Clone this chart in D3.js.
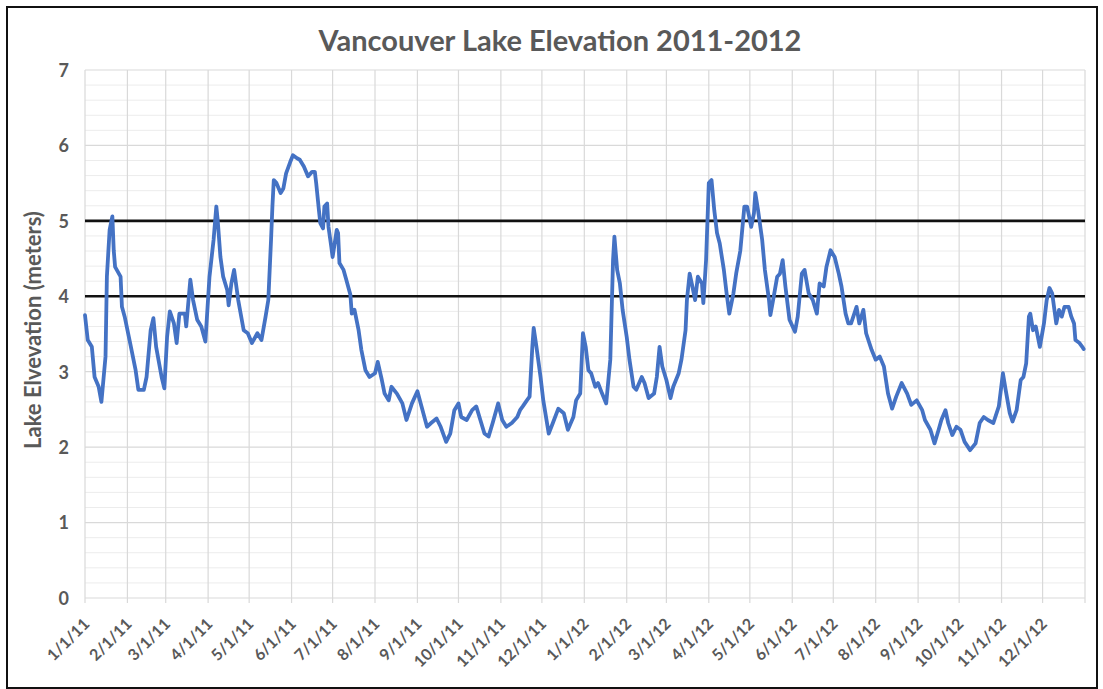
<!DOCTYPE html>
<html>
<head>
<meta charset="utf-8">
<script src="https://cdn.jsdelivr.net/npm/d3@7"></script>
<style>
  html, body { margin: 0; padding: 0; background: #fff; }
  svg { display: block; }
  text { font-family: Lato, "Open Sans", sans-serif; }
</style>
</head>
<body>
<svg id="chart" width="1103" height="689"></svg>
<script>
// ---------- data ----------
const chartTitle = "Vancouver Lake Elevation 2011-2012";
const yAxisTitle = "Lake Elvevation (meters)";
const startDate = "2011-01-01";
const endDate = "2013-01-01";
// days since 1/1/11
const dayOffsets = [0,2,5,7,10,12,15,16,18,20,21,22,26,27,29,33,37,39,43,45,48,50,52,56,58,60,62,65,67,69,73,74,77,79,82,85,88,91,94,96,97,99,101,104,105,107,109,112,116,119,122,126,129,132,134,136,137,138,140,143,145,147,150,152,155,157,160,163,166,168,169,171,172,174,175,177,178,180,181,184,185,186,189,191,194,195,197,200,202,205,208,212,214,217,219,222,224,228,232,235,239,243,246,250,253,257,260,264,267,270,273,275,279,283,286,289,292,295,298,302,305,308,312,316,318,320,323,325,327,328,330,333,335,339,342,346,350,353,357,359,362,364,366,368,370,373,375,378,381,384,385,386,387,389,391,393,396,398,401,403,407,409,412,416,418,420,422,425,428,430,434,436,439,440,442,444,446,448,451,452,454,456,458,460,462,464,467,469,471,474,476,479,482,484,487,489,490,492,495,497,500,501,503,506,508,510,512,515,519,521,524,526,529,532,535,537,540,542,545,548,551,553,556,558,560,564,566,569,571,575,578,581,584,587,590,593,597,601,604,608,612,614,618,621,624,626,629,631,634,637,640,643,647,651,654,657,660,664,668,671,673,676,678,681,684,686,688,690,691,693,695,698,701,703,705,707,710,712,714,716,719,721,723,724,727,729,730];
// lake elevation in meters
const elevations = [3.75,3.42,3.33,2.93,2.80,2.60,3.20,4.26,4.88,5.06,4.61,4.39,4.26,3.86,3.73,3.38,3.02,2.76,2.76,2.93,3.55,3.71,3.33,2.93,2.78,3.46,3.80,3.64,3.38,3.77,3.77,3.60,4.22,3.95,3.69,3.60,3.40,4.26,4.75,5.19,5.01,4.52,4.26,4.08,3.88,4.17,4.35,3.95,3.55,3.51,3.38,3.51,3.42,3.73,3.95,4.75,5.19,5.54,5.50,5.37,5.43,5.63,5.78,5.87,5.83,5.81,5.72,5.59,5.65,5.65,5.50,5.14,4.97,4.90,5.19,5.23,4.92,4.66,4.52,4.88,4.84,4.44,4.35,4.22,4.02,3.77,3.82,3.55,3.29,3.02,2.93,2.98,3.13,2.89,2.71,2.62,2.80,2.71,2.58,2.36,2.58,2.74,2.54,2.27,2.32,2.38,2.27,2.07,2.18,2.49,2.58,2.40,2.36,2.49,2.54,2.36,2.18,2.14,2.32,2.58,2.36,2.27,2.32,2.40,2.49,2.54,2.62,2.67,3.33,3.58,3.33,2.93,2.62,2.18,2.32,2.51,2.45,2.23,2.40,2.62,2.71,3.51,3.33,3.02,2.98,2.80,2.85,2.71,2.58,3.16,3.82,4.48,4.79,4.35,4.17,3.82,3.46,3.16,2.80,2.76,2.93,2.85,2.65,2.71,2.93,3.33,3.07,2.89,2.65,2.80,2.98,3.16,3.55,3.95,4.30,4.13,3.95,4.26,4.17,3.91,4.48,5.50,5.54,5.14,4.84,4.70,4.35,4.04,3.77,4.04,4.30,4.60,5.19,5.19,4.92,5.10,5.37,5.14,4.75,4.35,3.95,3.75,3.95,4.26,4.30,4.48,4.13,3.69,3.53,3.73,4.30,4.35,4.04,3.95,3.77,4.17,4.13,4.39,4.61,4.52,4.30,4.13,3.77,3.64,3.64,3.86,3.64,3.82,3.51,3.29,3.16,3.20,3.07,2.71,2.51,2.67,2.85,2.71,2.56,2.62,2.49,2.36,2.23,2.05,2.23,2.36,2.49,2.32,2.16,2.27,2.23,2.07,1.96,2.05,2.32,2.40,2.36,2.32,2.54,2.98,2.76,2.45,2.34,2.49,2.89,2.93,3.11,3.73,3.77,3.55,3.60,3.33,3.64,3.95,4.11,4.04,3.64,3.82,3.73,3.86,3.86,3.73,3.64,3.42,3.38,3.33,3.30];
const referenceLevels = [4, 5];
const yTickValues = [0, 1, 2, 3, 4, 5, 6, 7];
const xTickLabels = ["1/1/11","2/1/11","3/1/11","4/1/11","5/1/11","6/1/11","7/1/11","8/1/11","9/1/11","10/1/11","11/1/11","12/1/11","1/1/12","2/1/12","3/1/12","4/1/12","5/1/12","6/1/12","7/1/12","8/1/12","9/1/12","10/1/12","11/1/12","12/1/12"];

// ---------- layout ----------
const svg = d3.select("#chart");
const W = 1103, H = 689;
const plot = { left: 85, right: 1085, top: 70, bottom: 598 };
const textColor = "#595959";

const parseISO = d3.timeParse("%Y-%m-%d");
const parseTick = d3.timeParse("%m/%d/%y");
const t0 = parseISO(startDate), t1 = parseISO(endDate);
const data = dayOffsets.map((d, i) => ({ date: d3.timeDay.offset(t0, d), value: elevations[i] }));
const tickDates = xTickLabels.map(s => parseTick(s));

const x = d3.scaleTime().domain([t0, t1]).range([plot.left, plot.right]);
const y = d3.scaleLinear().domain([0, 7]).range([plot.bottom, plot.top]);

// background + border
svg.append("rect").attr("x", 0).attr("y", 0).attr("width", W).attr("height", H).attr("fill", "#fff");
svg.append("rect").attr("x", 7).attr("y", 7).attr("width", 1090).attr("height", 681)
  .attr("fill", "none").attr("stroke", "#111").attr("stroke-width", 2);

// minor horizontal gridlines
const minorTicks = d3.range(0, 7.0001, 0.2).filter(v => Math.abs(v - Math.round(v)) > 1e-6);
svg.append("g").selectAll("line").data(minorTicks).join("line")
  .attr("x1", plot.left).attr("x2", plot.right)
  .attr("y1", d => y(d)).attr("y2", d => y(d))
  .attr("stroke", "#ececec").attr("stroke-width", 1);

// vertical gridlines (months) including the end
const vGrid = tickDates.concat([t1]);
svg.append("g").selectAll("line").data(vGrid).join("line")
  .attr("x1", d => x(d)).attr("x2", d => x(d))
  .attr("y1", plot.top).attr("y2", plot.bottom + 5)
  .attr("stroke", "#d9d9d9").attr("stroke-width", 1.2);

// major horizontal gridlines
svg.append("g").selectAll("line").data(yTickValues).join("line")
  .attr("x1", plot.left).attr("x2", plot.right)
  .attr("y1", d => y(d)).attr("y2", d => y(d))
  .attr("stroke", "#d9d9d9").attr("stroke-width", 1.2);

// y axis labels
const yAxis = d3.axisLeft(y).tickValues(yTickValues).tickSize(0).tickPadding(0).tickFormat(d3.format("d"));
const gy = svg.append("g").attr("transform", `translate(${plot.left - 16},0)`).call(yAxis);
gy.select(".domain").remove();
gy.selectAll("text").attr("fill", textColor).attr("font-size", 18).attr("font-weight", "bold")
  .attr("font-family", "Lato, 'Open Sans', sans-serif").attr("dy", "0.35em");

// x axis labels
const xAxis = d3.axisBottom(x).tickValues(tickDates).tickSize(0).tickPadding(0)
  .tickFormat((d, i) => xTickLabels[i]);
const gx = svg.append("g").attr("transform", `translate(0,${plot.bottom + 10})`).call(xAxis);
gx.select(".domain").remove();
gx.selectAll("text")
  .attr("fill", textColor).attr("font-size", 16).attr("font-weight", "bold")
  .attr("font-family", "Lato, 'Open Sans', sans-serif")
  .attr("text-anchor", "end").attr("dy", 0)
  .attr("transform", "translate(5,17) rotate(-45)");

// reference lines
svg.append("g").selectAll("line").data(referenceLevels).join("line")
  .attr("x1", plot.left).attr("x2", plot.right)
  .attr("y1", d => y(d)).attr("y2", d => y(d))
  .attr("stroke", "#111").attr("stroke-width", 2.6);

// the series
const line = d3.line().x(d => x(d.date)).y(d => y(d.value)).curve(d3.curveLinear);
svg.append("path").datum(data)
  .attr("fill", "none").attr("stroke", "#4472C4").attr("stroke-width", 3.8)
  .attr("stroke-linejoin", "round").attr("stroke-linecap", "round")
  .attr("d", line);

// title
svg.append("text").attr("x", 560).attr("y", 51)
  .attr("text-anchor", "middle").attr("fill", textColor)
  .attr("font-size", 29).attr("font-weight", "bold").text(chartTitle);

// y axis title
svg.append("text")
  .attr("transform", `translate(41,330) rotate(-90)`)
  .attr("text-anchor", "middle").attr("fill", textColor)
  .attr("font-size", 22).attr("font-weight", "bold").text(yAxisTitle);
</script>
</body>
</html>
